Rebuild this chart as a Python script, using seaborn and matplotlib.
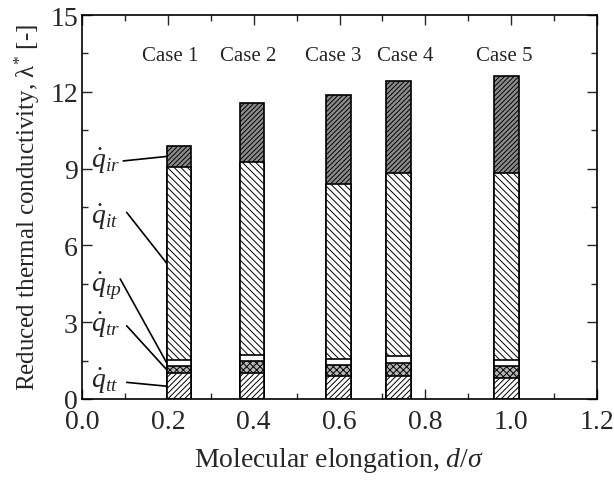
import numpy as np
import pandas as pd
import matplotlib
matplotlib.use("Agg")
import matplotlib.pyplot as plt
from matplotlib.ticker import MultipleLocator
import seaborn as sns

# values
cases = ["Case 1", "Case 2", "Case 3", "Case 4", "Case 5"]
elong = [0.226, 0.396, 0.597, 0.738, 0.989]
q_tt = [1.00, 1.00, 0.91, 0.91, 0.82]
q_tr = [0.30, 0.47, 0.43, 0.50, 0.46]
q_tp = [0.24, 0.26, 0.22, 0.28, 0.26]
q_it = [7.54, 7.51, 6.82, 7.13, 7.28]
q_ir = [0.79, 2.33, 3.51, 3.61, 3.78]
comp_names = ["tt", "tr", "tp", "it", "ir"]
comp_labels = [r"$\dot{q}_{tt}$", r"$\dot{q}_{tr}$", r"$\dot{q}_{tp}$",
               r"$\dot{q}_{it}$", r"$\dot{q}_{ir}$"]

df = pd.DataFrame({"elong": elong, "tt": q_tt, "tr": q_tr, "tp": q_tp,
                   "it": q_it, "ir": q_ir})
cum = df[comp_names].cumsum(axis=1)
for c in comp_names:
    df["top_" + c] = cum[c]

sns.set_style("ticks")
plt.rcParams["font.family"] = ["Liberation Serif", "DejaVu Serif"]
plt.rcParams["mathtext.fontset"] = "custom"
plt.rcParams["mathtext.rm"] = "Liberation Serif"
plt.rcParams["mathtext.it"] = "Liberation Serif:italic"
plt.rcParams["hatch.linewidth"] = 0.7
plt.rcParams["hatch.color"] = "black"

fig = plt.figure(figsize=(6.14, 4.81), dpi=100)
ax = fig.add_axes([0.1336, 0.1684, 0.8388, 0.7983])

bar_w = 0.058
rel_w = bar_w / np.min(np.diff(sorted(elong)))

styles = {
    "ir": ("#8c8c8c", "///////"),
    "it": ("white", "\\\\\\\\\\"),
    "tp": ("white", None),
    "tr": ("#b5b5b5", "xxxxx"),
    "tt": ("white", "//////"),
}

# draw cumulative tops from the highest layer down so they stack visually
for c in comp_names[::-1]:
    face, hatch = styles[c]
    n0 = len(ax.patches)
    sns.barplot(data=df, x="elong", y="top_" + c, native_scale=True,
                width=rel_w, color=face, saturation=1, errorbar=None, ax=ax)
    for p in ax.patches[n0:]:
        p.set_facecolor(face)
        p.set_edgecolor("black")
        p.set_linewidth(1.2)
        p.set_hatch(hatch)

# component labels with leader lines to the first bar
label_y = [0.75, 2.9, 4.43, 7.14, 9.31]
line_start = [(0.104, 0.65), (0.104, 2.86), (0.089, 4.69), (0.104, 7.29), (0.096, 9.30)]
x_edge = elong[0] - bar_w / 2
for i, c in enumerate(comp_names):
    bottom = df["top_" + c][0] - df[c][0]
    mid = bottom + df[c][0] / 2
    ax.text(0.022, label_y[i], comp_labels[i], fontsize=20, va="center", ha="left")
    ax.plot([line_start[i][0], x_edge], [line_start[i][1], mid], color="black", lw=1.2)

case_dx = [-0.021, -0.009, -0.012, 0.014, -0.005]
for i, name in enumerate(cases):
    ax.text(elong[i] + case_dx[i], 13.4, name, fontsize=15, ha="center", va="center")

ax.set_xlim(0, 1.2)
ax.set_ylim(0, 15)
ax.xaxis.set_major_locator(MultipleLocator(0.2))
ax.xaxis.set_minor_locator(MultipleLocator(0.1))
ax.yaxis.set_major_locator(MultipleLocator(3))
ax.yaxis.set_minor_locator(MultipleLocator(1.5))
ax.xaxis.set_major_formatter(plt.FormatStrFormatter("%.1f"))
ax.tick_params(which="both", direction="in", top=True, right=True, width=1.0)
ax.tick_params(which="major", length=7, labelsize=20)
ax.tick_params(axis="x", which="major", pad=7)
ax.tick_params(axis="y", which="major", pad=3)
ax.tick_params(which="minor", length=4)
for s in ax.spines.values():
    s.set_visible(True)
    s.set_linewidth(1.2)
    s.set_color("black")

ax.set_xlabel(r"Molecular elongation, $d/\sigma$", fontsize=20, labelpad=8)
ax.set_ylabel(r"Reduced thermal conductivity, λ$^{*}$ [-]", fontsize=18, labelpad=6)

fig.savefig("out.png", dpi=100)
